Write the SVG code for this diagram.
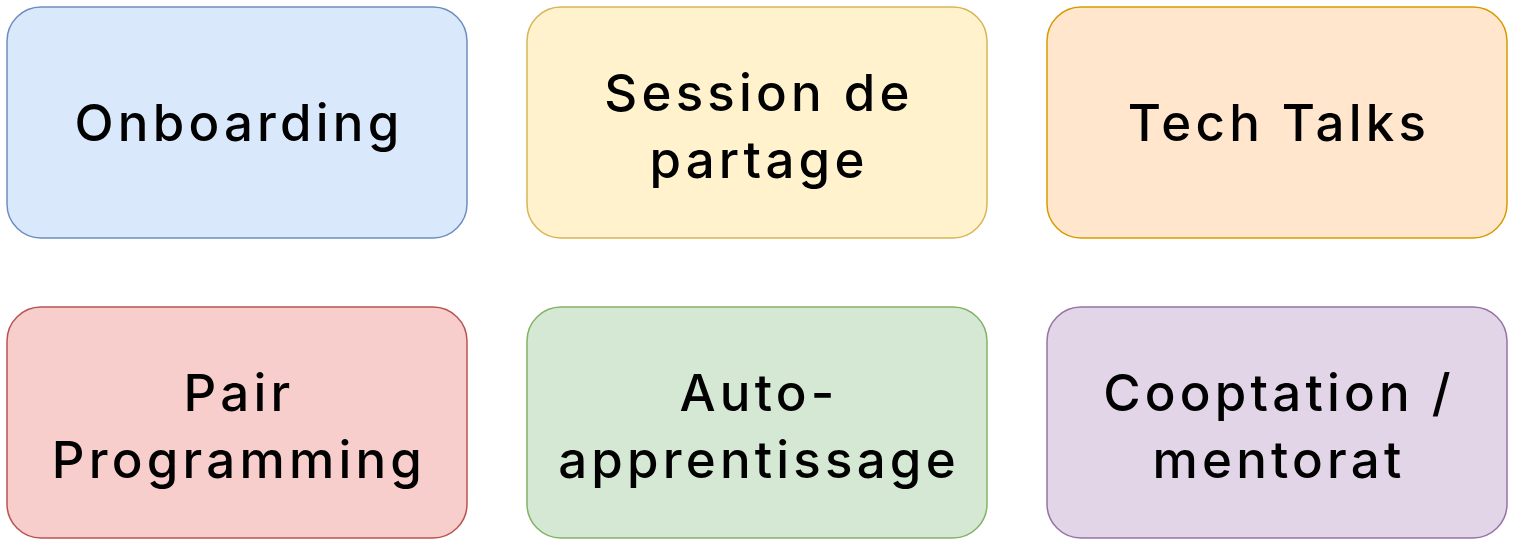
<svg xmlns="http://www.w3.org/2000/svg" width="1514" height="548" viewBox="0 0 1514 548">
<style>
.box{stroke-width:1.5}
.t{font-family:Inter,"Liberation Sans",sans-serif;font-size:51px;font-weight:500;letter-spacing:4.2px;fill:#000;text-anchor:middle}
</style>
<rect width="1514" height="548" fill="#fff"/>
<g id="onboarding"><rect class="box" x="7" y="7" width="460" height="231" rx="34" fill="#dae8fc" stroke="#6c8ebf"/><text class="t" x="239" y="141">Onboarding</text></g>
<g id="session"><rect class="box" x="527" y="7" width="460" height="231" rx="34" fill="#fff2cc" stroke="#d6b656"/><text class="t" x="759" y="111">Session de</text><text class="t" x="759" y="178">partage</text></g>
<g id="techtalks"><rect class="box" x="1047" y="7" width="460" height="231" rx="34" fill="#ffe6cc" stroke="#d79b00"/><text class="t" x="1279" y="141">Tech Talks</text></g>
<g id="pair"><rect class="box" x="7" y="307" width="460" height="231" rx="34" fill="#f8cecc" stroke="#b85450"/><text class="t" x="239" y="411">Pair</text><text class="t" x="239" y="478">Programming</text></g>
<g id="auto"><rect class="box" x="527" y="307" width="460" height="231" rx="34" fill="#d5e8d4" stroke="#82b366"/><text class="t" x="759" y="411">Auto-</text><text class="t" x="759" y="478">apprentissage</text></g>
<g id="cooptation"><rect class="box" x="1047" y="307" width="460" height="231" rx="34" fill="#e1d5e7" stroke="#9673a6"/><text class="t" x="1279" y="411">Cooptation /</text><text class="t" x="1279" y="478">mentorat</text></g>
<g id="connectors"/>
</svg>
